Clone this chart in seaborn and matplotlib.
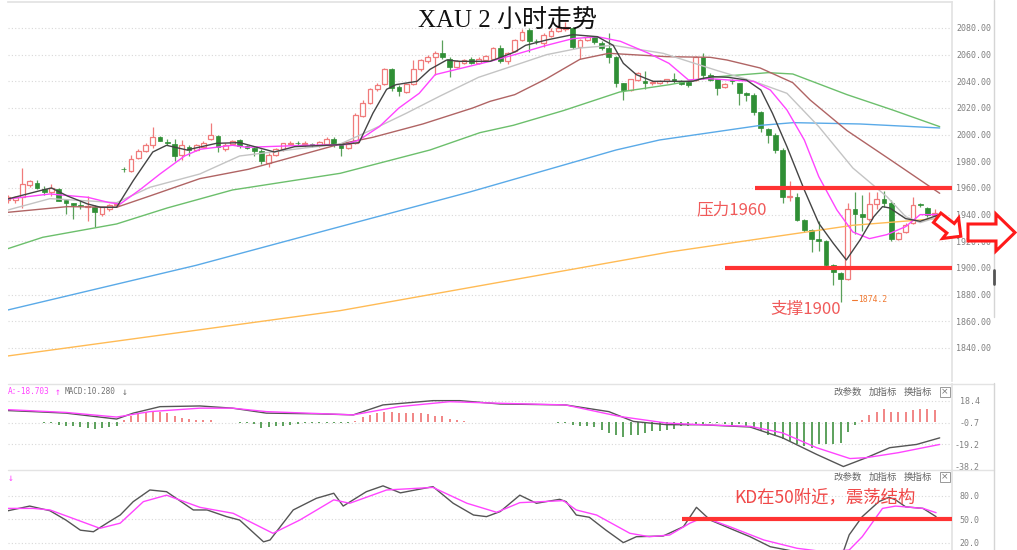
import numpy as np
import matplotlib
matplotlib.use("Agg")
import matplotlib.pyplot as plt
from matplotlib.patches import Polygon, Rectangle
from matplotlib.lines import Line2D
import seaborn as sns

# XAU 2h candles
opens = [1951, 1951, 1953, 1962, 1963.5, 1959, 1957, 1959, 1951, 1948.5,
         1947, 1946, 1946, 1940.5, 1944, 1947, 1974.5, 1973, 1982.5, 1987.5,
         1992, 1998, 1994.5, 1993, 1984.5, 1990.5, 1988.5, 1991, 1997, 1999,
         1989, 1993, 1996, 1991.5, 1990, 1987.5, 1979, 1985, 1989, 1993,
         1994, 1993, 1993, 1992, 1993, 1997, 1993, 1990, 1994, 2014,
         2024, 2034, 2038, 2049, 2036, 2032, 2038, 2049, 2055, 2058,
         2061, 2057, 2051, 2054, 2057, 2054, 2056, 2057, 2065, 2055,
         2063, 2071, 2078.5, 2070.5, 2068.5, 2074, 2078, 2079, 2080, 2066,
         2071, 2073, 2069, 2065, 2058.5, 2038.5, 2033.5, 2041, 2040, 2038.5,
         2039, 2040, 2042, 2040, 2039.5, 2041, 2058.5, 2045, 2041.5, 2036,
         2041, 2038.5, 2031, 2030, 2017, 2004, 2000, 1988.5, 1953, 1953.5,
         1936, 1928.5, 1922, 1920, 1902, 1896, 1892, 1944, 1940.5, 1937,
         1948, 1952, 1949, 1922, 1927, 1934, 1947.5, 1945, 1940]
highs = [1955, 1954, 1975, 1966, 1966, 1961.5, 1963, 1960, 1952, 1949,
         1950, 1954, 1947, 1946, 1948, 1949, 1976, 1985, 1989, 1994,
         2005.5, 1999, 1997, 1997, 1996, 1992, 1993, 1995, 2009, 2000,
         1993.5, 1996, 1997, 1992, 1991, 1989, 1986, 1990, 1994, 1995,
         1995, 1995, 1994, 1995, 1998, 1998, 1994, 1994, 2016, 2026,
         2035, 2039, 2050, 2050, 2037, 2039, 2056, 2057, 2060, 2063,
         2071, 2058, 2056, 2057, 2058, 2058, 2060, 2066, 2067.5, 2062,
         2072, 2079, 2080, 2072, 2076, 2080, 2082, 2084.5, 2081, 2072,
         2074, 2074, 2070, 2076, 2059, 2039, 2042, 2047, 2047.5, 2041,
         2041, 2042, 2046, 2041, 2040, 2059, 2061, 2046, 2042, 2039,
         2042, 2039, 2032, 2031, 2018, 2005, 2001, 1990, 1965, 1956,
         1937, 1929, 1935, 1921, 1903, 1897, 1948.5, 1957, 1955, 1957,
         1957, 1958, 1951, 1927, 1934, 1953, 1949, 1946, 1944]
lows = [1949, 1949, 1945, 1961, 1959, 1955, 1954, 1950, 1940.5, 1937,
        1944, 1935.5, 1930.5, 1939, 1943, 1946, 1972, 1972, 1982, 1987,
        1990, 1995, 1992, 1980, 1981, 1984, 1988, 1990, 1996, 1987,
        1988, 1992, 1990, 1989, 1984, 1978, 1976, 1984, 1988, 1992,
        1992, 1991, 1991, 1991, 1992, 1991, 1984, 1989, 1993, 2013,
        2023, 2033, 2037, 2033, 2029, 2031, 2037, 2048, 2054, 2045,
        2057, 2043, 2050, 2053, 2053, 2053, 2055, 2056, 2054, 2053,
        2062, 2070, 2062, 2068, 2066, 2073, 2077, 2078, 2064, 2057,
        2070, 2068, 2063.5, 2053.5, 2036, 2026, 2033, 2040, 2034, 2037.5,
        2038, 2039, 2039, 2037, 2036, 2040, 2042, 2040, 2029.5, 2035,
        2038, 2022, 2025, 2015, 2002, 1993.5, 1986, 1948.5, 1950, 1935,
        1927, 1912, 1913, 1901, 1887, 1874.2, 1891, 1925.5, 1928, 1935,
        1944, 1946, 1920, 1921, 1926, 1933, 1946, 1938, 1938]
closes = [1953, 1953, 1963, 1965, 1960, 1957, 1960, 1950.5, 1949, 1947.5,
          1946.5, 1946.5, 1942, 1945.5, 1947.5, 1947.5, 1974, 1982, 1988, 1992.5,
          1998, 1995.5, 1994, 1984, 1992, 1988.5, 1992.5, 1994, 2000, 1990.5,
          1992.5, 1995.5, 1991.5, 1990, 1988, 1980, 1985, 1989, 1993.5, 1994,
          1993.5, 1993.2, 1992.5, 1994.5, 1997, 1992, 1990, 1993, 2015, 2024,
          2034, 2037.5, 2049, 2035, 2032.5, 2038, 2049, 2056, 2058, 2061,
          2058, 2051, 2055, 2056, 2054, 2057, 2059, 2065, 2055, 2061,
          2071, 2077, 2070, 2070, 2074.5, 2078, 2080, 2081, 2066, 2071,
          2073.5, 2069.5, 2065, 2058.5, 2038.5, 2033.5, 2041.5, 2046.5, 2039, 2039.5,
          2040, 2041.5, 2040, 2038, 2037.5, 2058.5, 2045, 2041, 2035, 2038,
          2040, 2031, 2030, 2017, 2005, 2000, 1988.5, 1953.5, 1954, 1936,
          1928.5, 1922, 1920, 1902, 1897, 1892, 1944.5, 1940.5, 1938, 1948,
          1952, 1948.5, 1922, 1926, 1932.5, 1947, 1947, 1940, 1941]

# moving averages as (bar index, price)
ma5 = [(0, 1951.75), (4.8, 1958.5), (6, 1960), (8.2, 1954), (11, 1948), (12.8, 1945.5),
       (15, 1945.5), (17.3, 1965.5), (20, 1987), (21.9, 1992), (24.7, 1988.5), (28.8, 1993.5),
       (32, 1994), (36.8, 1987), (39.6, 1991), (46, 1992.5), (48.5, 1994), (50.4, 2016),
       (52.3, 2034), (53.6, 2037.5), (56.5, 2040), (58.3, 2049), (60.6, 2056), (62.4, 2055),
       (66.6, 2055), (70, 2062), (71.5, 2067), (74.4, 2071), (78, 2075), (81.4, 2073.5),
       (83.6, 2067), (85, 2053.5), (86.8, 2045), (89.1, 2040), (94.6, 2040), (95.8, 2042),
       (97.4, 2043.5), (99.5, 2043), (102, 2041), (104, 2033.5), (105.6, 2016), (107.6, 1991),
       (110, 1958.5), (112, 1933.5), (114, 1918.5), (115.8, 1906), (117.7, 1921), (119.6, 1938.5),
       (120.8, 1946), (121.8, 1945), (124, 1937), (126, 1935), (128.7, 1940)]
ma10 = [(0, 1951.75), (5.8, 1955.5), (11, 1953), (14, 1949), (15.5, 1948), (18.3, 1959),
        (21, 1970.5), (24.4, 1984), (26.5, 1989), (31, 1992), (33, 1990.5), (41, 1992),
        (46.6, 1992.5), (48.5, 1996), (51.3, 2006), (54, 2020), (56.8, 2031), (59, 2045),
        (62, 2049), (66.6, 2055), (70, 2060), (74.4, 2067), (78, 2072), (81.4, 2073.5),
        (84.6, 2070), (88.5, 2061), (91.3, 2053.5), (94, 2041), (96.8, 2042), (99.5, 2041),
        (103, 2040), (105.3, 2033.5), (107.6, 2018.5), (110, 1996), (112, 1968.5), (114.5, 1943.5),
        (116.7, 1927), (119, 1922), (121.4, 1925), (124, 1931), (126, 1940), (128.7, 1940)]
ma20 = [(0, 1943.5), (5.8, 1952), (10.4, 1950.5), (15, 1949), (19.6, 1960.5), (26.5, 1970.5),
        (32, 1984), (41, 1990), (45.9, 1993), (50.4, 2004), (55, 2016), (59.7, 2029),
        (65, 2043), (70, 2052), (74.4, 2060), (79, 2065), (83.6, 2067), (90.5, 2061),
        (98, 2048), (103, 2040), (107.6, 2031), (112, 2006), (116.7, 1975), (121.4, 1953.5),
        (124, 1938.5), (126, 1934), (128.7, 1938.5)]
ma30 = [(0, 1941.75), (8.2, 1946), (15, 1945.5), (19.6, 1954), (26.5, 1967), (33.2, 1974),
        (45.9, 1993), (50.4, 1998), (57.3, 2008), (64.2, 2020), (66.6, 2025), (70, 2030),
        (74.4, 2042), (79, 2056.5), (83, 2061), (91, 2058.5), (97, 2058), (99.3, 2056),
        (103.9, 2050), (108.4, 2039), (110.8, 2026), (115.9, 2003), (122.2, 1980), (128.7, 1956)]
ma60 = [(0, 1914.5), (4.8, 1923), (15, 1933), (22, 1945), (31, 1958.5), (45.9, 1971),
        (58.3, 1988.5), (65.2, 2001.5), (69.8, 2007), (76.7, 2018), (84.5, 2032), (91.4, 2037.5),
        (97, 2043), (105, 2046.5), (108.4, 2045.5), (115.9, 2030), (122.2, 2018.5), (128.7, 2006)]
ma120 = [(0, 1868.5), (26, 1902), (44.5, 1929), (63.8, 1957), (84, 1988.5), (90, 1996),
         (104, 2007), (108.5, 2009), (117.7, 2008), (128.7, 2005)]
ma250 = [(0, 1834), (45.9, 1868), (91.4, 1912), (104, 1922), (116.7, 1932), (128.3, 1937)]

# MACD
macd_hist = [-0.3, -0.3, -0.3, -0.3, -0.4, -0.5, -0.8, -2.3, -3.1, -3.7,
             -4.3, -5.1, -6.0, -5.1, -4.6, -3.7, 2.0, 4.9, 7.1, 8.3,
             9.1, 8.6, 7.7, 5.4, 3.4, 2.6, 2.0, 2.0, 2.0, 0.4,
             0.3, -0.3, -0.8, -1.0, -1.5, -5.1, -4.6, -3.7, -3.1, -2.3,
             -1.7, -1.2, -1.0, -0.8, -0.8, -0.7, -0.6, -0.5, 0.8, 4.3,
             6.3, 7.7, 9.1, 8.3, 7.7, 7.7, 7.7, 7.7, 7.1, 5.4,
             4.9, 2.6, 1.4, 0.5, 0.4, 0.4, 0.3, 0.3, 0.3, 0.3,
             0.3, 0.3, 0.3, 0.3, 0.3, -0.3, -0.5, -1.0, -2.3, -3.1,
             -3.7, -4.6, -6.5, -9.4, -10.9, -12.9, -10.9, -10.9, -9.4, -8.0,
             -8.0, -6.5, -6.0, -3.7, -3.1, -2.3, -1.7, -0.9, -0.9, -1.4,
             -2.3, -1.4, -3.1, -5.1, -8.0, -10.9, -12.3, -15.1, -16.6, -19.4,
             -20.9, -22.3, -19.4, -19.4, -18.6, -18.0, -8.9, -2.3, 2.0, 6.3,
             9.1, 11.1, 9.1, 8.3, 8.3, 10.6, 11.1, 11.1, 10.6]
dif = [(0, 9.9), (3.5, 9.0), (8, 7.7), (15, 2.6), (17.3, 7.7), (21, 13.3), (26.5, 13.9),
       (31, 12.0), (35.7, 7.7), (42.6, 7.1), (47.7, 6.2), (51.8, 14.8), (58.7, 18.5),
       (62.4, 18.5), (68, 15.6), (77, 14.8), (83, 9.0), (86.4, 0.5), (91, -2.3), (95.6, -2.3),
       (102.5, -4.3), (107, -13.7), (111.7, -28), (115.4, -38.5), (118.6, -30.8),
       (121.8, -22.2), (125.5, -19.4), (128.7, -13.7)]
dea = [(0, 10.7), (8, 8.3), (15, 4.3), (19.6, 9.0), (26.5, 12.0), (31, 12.0), (35.7, 9.0),
       (47.7, 6.2), (54, 13.3), (61, 17.6), (68, 16.2), (77, 14.8), (84.5, 4.8), (91, -0.9),
       (95.6, -2.3), (102.5, -3.7), (107, -9.4), (111.7, -22.2), (116.3, -31.6),
       (118.6, -30.8), (123, -26.5), (128.7, -19.4)]

# KD
k_line = [(0, 61), (3, 67), (5.8, 61), (8, 49), (10, 36), (11.8, 34), (14, 47), (15.5, 55.5),
          (17.3, 72.7), (19.6, 87.7), (21.9, 85.5), (25.6, 62), (27.5, 62), (30.2, 53.4),
          (32, 49), (35.3, 21), (36.2, 23.4), (39.4, 62), (42.6, 77), (45, 83.5), (46.3, 67),
          (49.5, 85.5), (51.8, 93), (54.2, 84), (58.7, 92), (61.5, 70.6), (64.3, 55.5),
          (66.1, 53.4), (68, 60), (70.7, 81), (73, 70.6), (76.2, 75.7), (77.1, 72.7),
          (78.5, 55.5), (80.3, 52.6), (82.6, 36), (85, 20), (86.8, 27.6), (90.5, 28.5),
          (93.3, 40.5), (95.1, 65.4), (97, 49), (99.7, 38.4), (102.5, 27.6), (105.3, 14.7),
          (109, 8), (115.3, 6), (116.2, 30), (118, 53.4), (120.3, 72.7), (121.7, 78.3),
          (122.6, 75), (124, 66), (126.4, 64), (128.2, 53.4)]
d_line = [(0, 64), (3.5, 64), (5.8, 62), (12.7, 38.4), (15.5, 45), (18.7, 72.7), (21.9, 81),
          (26.5, 65.4), (31.1, 57.7), (36.6, 32), (40.3, 49), (45, 75), (47.2, 70.6),
          (52.3, 87.7), (58.7, 91), (63.4, 70.6), (67.5, 59), (70.7, 71.4), (76.7, 74),
          (78.5, 62), (81.3, 55.5), (85.9, 32), (88.6, 27.6), (91.4, 29.8), (94.2, 45),
          (96.1, 52.6), (99.7, 40.5), (104.4, 23.4), (109, 12.7), (113, 8), (116.2, 10.5),
          (118, 27.6), (120.8, 64), (122.6, 67), (126.4, 64), (128.2, 58.5)]

price_ticks = [2080, 2060, 2040, 2020, 2000, 1980, 1960, 1940, 1920, 1900, 1880, 1860, 1840]
macd_ticks = [18.4, -0.7, -19.2, -38.2]
kd_ticks = [80.0, 50.0, 20.0]

W, H = 1017, 550
sns.set_theme(style="white")
plt.rcParams['font.family'] = ['DejaVu Sans', 'Noto Sans CJK SC']
fig = plt.figure(figsize=(W / 100, H / 100), dpi=100)


def box(x0, y0, x1, y1):
    return [x0 / W, 1 - y1 / H, (x1 - x0) / W, (y1 - y0) / H]


def fx(x):
    return x / W


def fy(y):
    return 1 - y / H


ax = fig.add_axes(box(8, 2, 952, 381))
ax_macd = fig.add_axes(box(8, 384, 952, 470), sharex=ax)
ax_kd = fig.add_axes(box(8, 470, 952, 550), sharex=ax)

RED = '#f07b7b'
GREEN = '#2f8f35'
MONO = 'DejaVu Sans Mono'
CJK = ['Noto Sans CJK SC']

# candles
idx = np.arange(len(closes))
o, h, l, c = map(np.array, (opens, highs, lows, closes))
up = c >= o
top = np.maximum(o, c)
bot = np.minimum(o, c)
body = np.maximum(top - bot, 0.6)
ax.vlines(idx[up], top[up], h[up], color=RED, lw=0.9, zorder=3)
ax.vlines(idx[up], l[up], bot[up], color=RED, lw=0.9, zorder=3)
ax.vlines(idx[~up], l[~up], h[~up], color='#5aa05a', lw=0.9, zorder=3)
ax.bar(idx[up], body[up], bottom=bot[up], width=0.66, facecolor='white',
       edgecolor=RED, lw=0.9, zorder=4)
ax.bar(idx[~up], body[~up], bottom=bot[~up], width=0.66, color=GREEN,
       edgecolor=GREEN, lw=0.5, zorder=4)

for pts, col in [(ma250, '#ffbb55'), (ma120, '#5aaae8'), (ma60, '#6cbf6c'),
                 (ma30, '#b06464'), (ma20, '#c4c4c4'), (ma10, '#ff44ff'), (ma5, '#444444')]:
    sns.lineplot(x=[p[0] for p in pts], y=[p[1] for p in pts], ax=ax, color=col,
                 lw=1, sort=False, estimator=None, zorder=5)

# support / resistance
ax.hlines(1960, 103.2, 130.4, color='#ff3333', lw=3, zorder=6)
ax.hlines(1900, 99.0, 130.4, color='#ff3333', lw=3, zorder=6)
ax.text(100, 1943.5, "压力1960", color='#f05a5a', fontsize=12, ha='center',
        va='center', family=CJK, zorder=7)
ax.text(110.2, 1868.5, "支撑1900", color='#f05a5a', fontsize=12, ha='center',
        va='center', family=CJK, zorder=7)
ax.plot([116.6, 117.3], [1876.3, 1876.3], color='#f07830', lw=0.8, zorder=7)
ax.text(117.4, 1876.3, "1874.2", color='#f07830', fontsize=5.8, family=MONO,
        va='center', zorder=7)

for v in price_ticks:
    ax.axhline(v, color='#d8d8d8', lw=0.8, ls=(0, (1, 2)), zorder=0)
ax.set_xlim(0, 130.4)
ax.set_ylim(1815.2, 2099.5)

# MACD
hist = np.array(macd_hist)
ax_macd.vlines(idx, 0, hist, colors=np.where(hist >= 0, '#f07c7c', '#4f9a4f'),
               lw=1.3, zorder=3)
sns.lineplot(x=[p[0] for p in dif], y=[p[1] for p in dif], ax=ax_macd, color='#555555',
             lw=1, sort=False, estimator=None, zorder=4)
sns.lineplot(x=[p[0] for p in dea], y=[p[1] for p in dea], ax=ax_macd, color='#ff44ff',
             lw=1, sort=False, estimator=None, zorder=4)
for v in macd_ticks[:3]:
    ax_macd.axhline(v, color='#d8d8d8', lw=0.8, ls=(0, (1, 2)), zorder=0)
ax_macd.set_ylim(-41.5, 32.9)

# KD
sns.lineplot(x=[p[0] for p in k_line], y=[p[1] for p in k_line], ax=ax_kd, color='#555555',
             lw=1, sort=False, estimator=None, zorder=4)
sns.lineplot(x=[p[0] for p in d_line], y=[p[1] for p in d_line], ax=ax_kd, color='#ff44ff',
             lw=1, sort=False, estimator=None, zorder=4)
for v in kd_ticks:
    ax_kd.axhline(v, color='#d8d8d8', lw=0.8, ls=(0, (1, 2)), zorder=0)
ax_kd.hlines(50, 93.1, 130.4, color='#ff3333', lw=3, zorder=6)
ax_kd.text(112.8, 78.7, "KD在50附近，震荡结构", color='#f04848', fontsize=12.5,
           ha='center', va='center', family=CJK, zorder=7)
ax_kd.set_ylim(10.5, 113.4)

# axis cosmetics
for a in (ax, ax_macd, ax_kd):
    a.set_xlabel('')
    a.set_ylabel('')
    a.set_xticks([])
    a.yaxis.tick_right()
    for s in a.spines.values():
        s.set_color('#e3e3e3')
    a.spines['left'].set_visible(False)
    a.spines['bottom'].set_visible(False)
ax_macd.spines['top'].set_visible(False)
ax_kd.spines['top'].set_visible(False)

ax.set_yticks(price_ticks)
ax.set_yticklabels([f"{v:.2f}" for v in price_ticks], family=MONO)
ax.tick_params(axis='y', length=0, pad=3, labelsize=6, labelcolor='#808080')
ax_macd.set_yticks(macd_ticks)
ax_macd.set_yticklabels([f"{v:.1f}" for v in macd_ticks], family=MONO, ha='right')
ax_macd.tick_params(axis='y', length=0, pad=20, labelsize=6, labelcolor='#808080')
ax_kd.set_yticks(kd_ticks)
ax_kd.set_yticklabels([f"{v:.1f}" for v in kd_ticks], family=MONO, ha='right')
ax_kd.tick_params(axis='y', length=0, pad=20, labelsize=6, labelcolor='#808080')

# panel separators and right frame
for y in (383.5, 470):
    fig.add_artist(Line2D([fx(8), fx(994)], [fy(y), fy(y)], color='#e3e3e3', lw=1))
fig.add_artist(Line2D([fx(994), fx(994)], [fy(0), fy(317)], color='#d5d5d5', lw=1))
fig.add_artist(Line2D([fx(994), fx(994)], [fy(383), fy(550)], color='#d5d5d5', lw=1))
fig.add_artist(Line2D([fx(994), fx(994)], [fy(270), fy(284)], color='#555555', lw=2))

# indicator headers
fig.text(fx(8), fy(392), "A:-18.703", color='#ff44ff', fontsize=5.6, family=MONO, va='center')
fig.text(fx(55), fy(392), "↑", color='#ff44ff', fontsize=7, family=MONO, va='center')
fig.text(fx(65), fy(392), "MACD:10.280", color='#707070', fontsize=5.6, family=MONO, va='center')
fig.text(fx(122), fy(392), "↓", color='#707070', fontsize=7, family=MONO, va='center')
fig.text(fx(8), fy(478), "↓", color='#ff44ff', fontsize=7, family=MONO, va='center')
for y in (392, 477):
    for x, s in [(833, "改参数"), (869, "加指标"), (904, "换指标")]:
        fig.text(fx(x), fy(y), s, color='#666666', fontsize=6.8, family=CJK, va='center')
    fig.add_artist(Rectangle((fx(940), fy(y + 5)), 10 / W, 10 / H, fill=False,
                             ec='#999999', lw=0.7))
    fig.text(fx(945), fy(y), "×", color='#777777', fontsize=6.5, ha='center', va='center')

# title
fig.text(fx(508), fy(21), "XAU 2 小时走势", fontsize=18, color='#111111',
         family=['Liberation Serif', 'Noto Sans CJK SC'], ha='center', va='center')

# hollow red arrows on the right
arrow = np.array([(-15, -6), (2, -6), (2, -13), (15, 0), (2, 13), (2, 6), (-15, 6)], float)
th = np.deg2rad(38)
rot = arrow @ np.array([[np.cos(th), np.sin(th)], [-np.sin(th), np.cos(th)]])
slant = rot + np.array([949, 227])
straight = np.array([(968, 224), (996, 224), (996, 214), (1015, 232.5),
                     (996, 251), (996, 241), (968, 241)], float)
for pts in (slant, straight):
    fig.add_artist(Polygon([(fx(x), fy(y)) for x, y in pts], closed=True,
                           facecolor='white', edgecolor='#ff1a1a', lw=2.2, zorder=10))

fig.savefig("out.png", dpi=100)
